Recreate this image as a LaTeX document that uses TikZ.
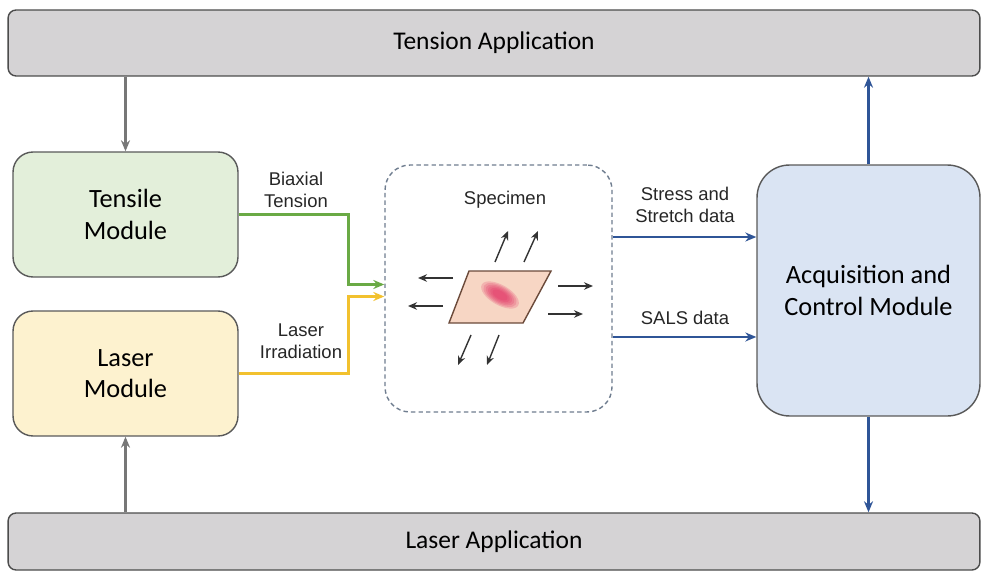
\documentclass[tikz,border=0pt]{standalone}
\usepackage{fontspec}
\setmainfont{Carlito}
\newfontfamily\labelfont{Liberation Sans}
\usetikzlibrary{arrows.meta}

\definecolor{barfill}{HTML}{D5D3D5}
\definecolor{tensfill}{HTML}{E3EFDA}
\definecolor{laserfill}{HTML}{FDF2CF}
\definecolor{acqfill}{HTML}{DAE4F3}
\definecolor{tensline}{HTML}{6AAA45}
\definecolor{laserline}{HTML}{F2C12E}
\definecolor{dataline}{HTML}{2F5597}
\definecolor{feedline}{HTML}{777777}
\definecolor{specline}{HTML}{6F7D8F}
\definecolor{sheetfill}{HTML}{F7D6C4}
\definecolor{sheetline}{HTML}{6B4A3A}
\definecolor{spot}{HTML}{E2275E}

\begin{document}
\begin{tikzpicture}[x=0.02cm,y=-0.02cm,
  bar/.style={draw=black!70,fill=barfill,line width=0.8pt,rounded corners=0.16cm,
    minimum width=19.44cm,font=\fontsize{14.5}{16}\selectfont},
  module/.style={draw=black!65,line width=0.8pt,rounded corners=0.4cm,align=center,
    minimum width=4.5cm,minimum height=2.5cm,font=\fontsize{15}{18}\selectfont},
  tag/.style={align=center,font=\labelfont\fontsize{10.5}{12.5}\selectfont,text=black!85},
  feed/.style={draw=feedline,line width=1.2pt},
  data/.style={draw=dataline,line width=1.5pt},
  small/.style={black!80,line width=0.8pt}]
\def\l{2.2mm}
\def\w{1.8mm}
\useasboundingbox (0,0) rectangle (982,577);

\node [bar,minimum height=1.32cm,name=top]  at (494,43)    {Tension Application};
\node [bar,minimum height=1.14cm,name=bot]  at (494,541.5) {Laser Application};
\node [module,fill=tensfill,name=tens]  at (125.5,214.5) {Tensile\\Module};
\node [module,fill=laserfill,name=las]  at (125.5,373.5) {Laser\\Module};
\node [draw=specline,dash pattern=on 2.5pt off 1.8pt,line width=0.8pt,rounded corners=0.5cm,
       minimum width=4.54cm,minimum height=4.94cm,name=spec] at (498.5,288.5) {};
\node [module,fill=acqfill,rounded corners=0.65cm,minimum width=4.46cm,minimum height=5.02cm,
       name=acq] at (868.5,290.5) {Acquisition and\\Control Module};

\node [tag,name=spectxt] at (505,200) {Specimen};
\node [tag,name=t1] at (296,190) {Biaxial\\Tension};
\node [tag,name=t2] at (301,341) {Laser\\Irradiation};
\node [tag,name=t3] at (685,205) {Stress and\\Stretch data};
\node [tag,name=t4] at (685,318) {SALS data};

\draw [feed,-{Stealth[length=\l, width=\w]}](tens.north |- top.south) to (tens.north);
\draw [feed,-{Stealth[length=\l, width=\w]}](las.south |- bot.north) to (las.south);
\draw [data,-{Stealth[length=\l, width=\w]}](acq.north) to (acq.north |- top.south);
\draw [data,-{Stealth[length=\l, width=\w]}](acq.south) to (acq.south |- bot.north);
\draw [draw=tensline,line width=1.5pt,-{Stealth[length=\l, width=\w]}]
  (tens.east) -- ++(110,0) |- ([yshift=0.08cm]spec.west);
\draw [draw=laserline,line width=1.5pt,-{Stealth[length=\l, width=\w]}]
  (las.east) -- ++(110,0) |- ([yshift=-0.16cm]spec.west);
\draw [data,-{Stealth[length=\l, width=\w]}]([yshift=1.03cm]spec.east) to ([yshift=1.03cm]spec.east -| acq.west);
\draw [data,-{Stealth[length=\l, width=\w]}]([yshift=-0.97cm]spec.east) to ([yshift=-0.97cm]spec.east -| acq.west);

\draw [fill=sheetfill,draw=sheetline,line width=0.8pt] (449,323) -- (523,323) -- (551,271) -- (469,271) -- cycle;
\foreach \r in {1.0,0.88,...,0.3}
  \fill [spot,opacity=0.2,rotate around={-30:(500,295)}]
    (500,295) ellipse [x radius=\r*0.42cm, y radius=\r*0.2cm];
\draw [small,-{Stealth[length=1.8mm, width=1.5mm]}] (495,262) -- (508,231);
\draw [small,-{Stealth[length=1.8mm, width=1.5mm]}] (524,262) -- (538,231);
\draw [small,-{Stealth[length=1.8mm, width=1.5mm]}] (453,278) -- (418,278);
\draw [small,-{Stealth[length=1.8mm, width=1.5mm]}] (443,306) -- (408,306);
\draw [small,-{Stealth[length=1.8mm, width=1.5mm]}] (558,286) -- (593,286);
\draw [small,-{Stealth[length=1.8mm, width=1.5mm]}] (548,314) -- (583,314);
\draw [small,-{Stealth[length=1.8mm, width=1.5mm]}] (471,335) -- (458,365);
\draw [small,-{Stealth[length=1.8mm, width=1.5mm]}] (499,335) -- (487,365);
\end{tikzpicture}
\end{document}
